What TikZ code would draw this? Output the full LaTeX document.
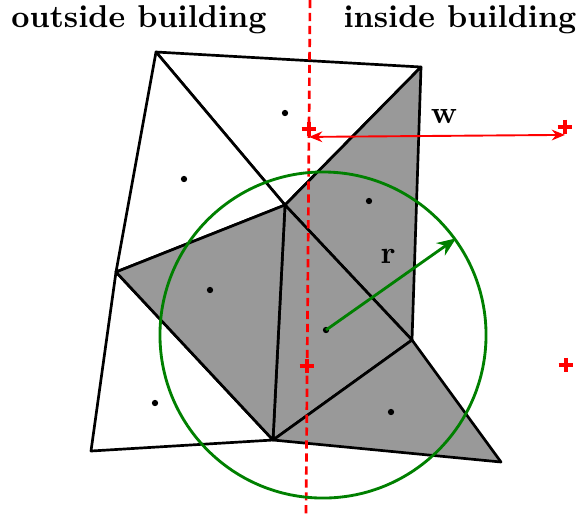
\documentclass[tikz,border=0pt]{standalone}
\usetikzlibrary{arrows.meta}
\begin{document}
\begin{tikzpicture}[x=0.3165pt, y=-0.3165pt, every node/.style={font=\bfseries}]
\tikzset{
  cell/.style={draw,line width=0.85pt,line join=round},
  incell/.style={cell,fill=black!40},
  outcell/.style={cell,fill=white},
  site/.style={circle,fill=black,inner sep=0pt,minimum size=2pt},
  probe/.style={inner sep=0pt,minimum size=4.6pt,
    path picture={\draw[red,line width=1.5pt]
      (path picture bounding box.north) -- (path picture bounding box.south)
      (path picture bounding box.west) -- (path picture bounding box.east);}}
}
\useasboundingbox (0,0) rectangle (576,515);
% mesh vertices
\coordinate (a) at (156,52);
\coordinate (b) at (421,67);
\coordinate (c) at (285,205);
\coordinate (d) at (116,272);
\coordinate (e) at (412,340);
\coordinate (f) at (273,440);
\coordinate (g) at (91,451);
\coordinate (h) at (501,462);
% cells
\foreach \pa/\pb/\pc in {a/b/c, a/c/d, d/f/g}
  \draw[outcell] (\pa) -- (\pb) -- (\pc) -- cycle;
\foreach \pa/\pb/\pc in {b/c/e, c/e/f, c/d/f, e/f/h}
  \draw[incell] (\pa) -- (\pb) -- (\pc) -- cycle;
% cell sites
\foreach \n/\x/\y in {s1/285/113, s2/184/179, s3/369/201, s4/210/290,
                      s5/326/330, s6/155/403, s7/391/412}
  \node[site] (\n) at (\x,\y) {};
% building wall
\coordinate (walltop) at (310,0);
\coordinate (wallbot) at (306,515);
\draw[red,line width=0.85pt,dash pattern=on 2.6pt off 1.5pt] (walltop) -- (wallbot);
\node (outlab) at (139,20) {outside building};
\node (inlab) at (460,20) {inside building};
% probes
\node[probe] (p1) at (309,129) {};
\node[probe] (p2) at (565,127) {};
\node[probe] (p3) at (307,366) {};
\node[probe] (p4) at (566,365) {};
\draw[red,semithick,{Stealth[length=4.2pt,width=3.4pt]}-{Stealth[length=4.2pt,width=3.4pt]}]
  ([yshift=-2.5pt]p1.center) -- ([yshift=-2.5pt]p2.center);
\node (wlab) at (444,117) {w};
% search radius
\node[draw=green!50!black,line width=0.9pt,circle,inner sep=0pt,minimum size=103.2pt] (range) at (323,335) {};
\draw[green!50!black,line width=0.9pt,-{Stealth[length=6pt,width=4.8pt]}] (s5.center) -- (range.36);
\node (rlab) at (388,256) {r};
\end{tikzpicture}
\end{document}
